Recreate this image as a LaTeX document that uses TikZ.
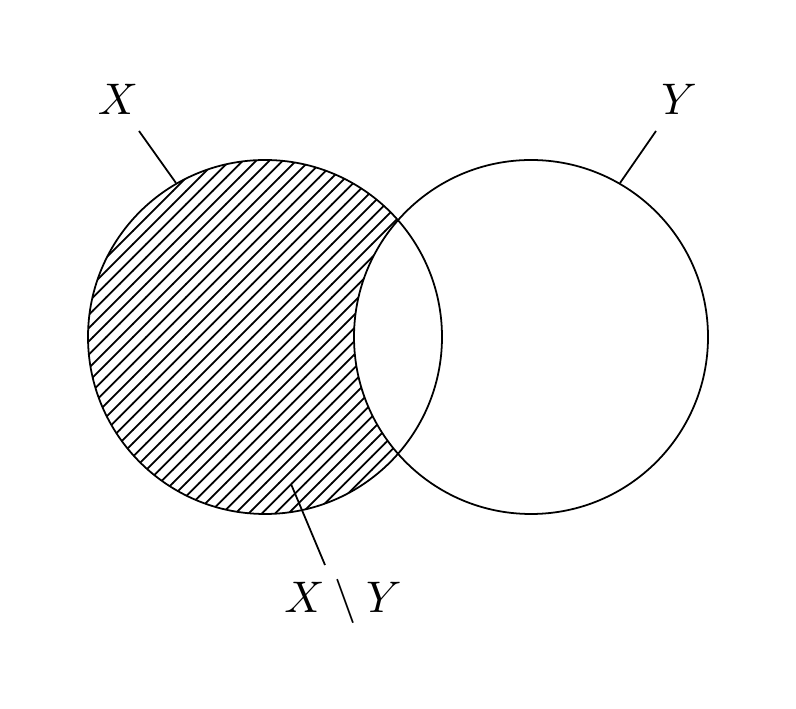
\documentclass[tikz,border=0pt]{standalone}
\usetikzlibrary{patterns}
\begin{document}
\begin{tikzpicture}[x=0.226pt,y=-0.226pt,
  lbl/.style={inner sep=0pt,anchor=base,font=\fontsize{9.6}{11}\selectfont},
  lead/.style={line width=0.4pt}]
\useasboundingbox (0,0) rectangle (796,709);
\coordinate (cx) at (265,337);
\coordinate (cy) at (531,337);
% hatched left circle
\fill[pattern=north east lines] (cx) circle[radius=177];
\begin{scope}
  \clip (cx) circle[radius=177];
  \fill[white] (cy) circle[radius=177];
\end{scope}
\draw[line width=0.4pt] (cx) circle[radius=177];
\draw[line width=0.4pt] (cy) circle[radius=177];
% labels
\node[lbl] (lx) at (118,115) {$X$};
\node[lbl] (ly) at (679,115) {$Y$};
\node[lbl] (lxy) at (343,613) {$X\setminus Y$};
\coordinate (xa) at (139,131);
\coordinate (xb) at (176,183);
\coordinate (ya) at (656,131);
\coordinate (yb) at (620,183);
\coordinate (da) at (325,565);
\coordinate (db) at (291,484);
\draw[lead] (xa) -- (xb);
\draw[lead] (ya) -- (yb);
\draw[lead] (da) -- (db);
\end{tikzpicture}
\end{document}
